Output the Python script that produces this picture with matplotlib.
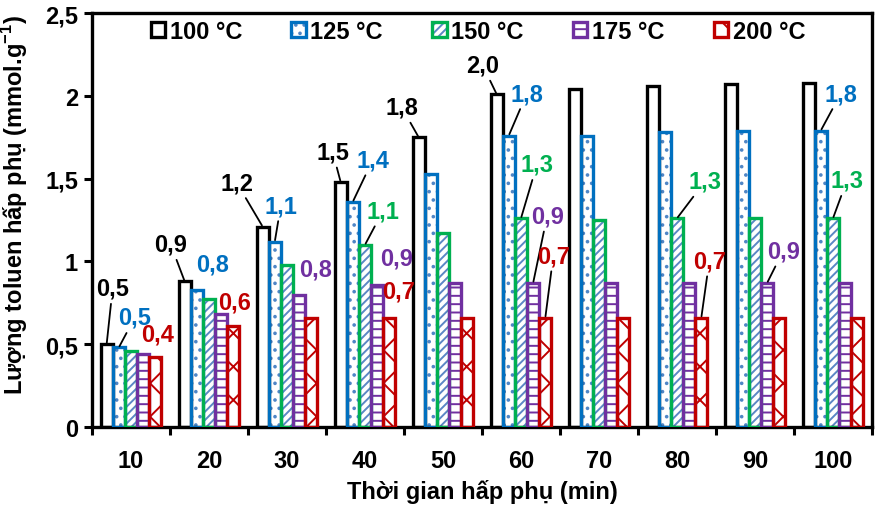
import matplotlib
matplotlib.use('Agg')
import matplotlib.pyplot as plt
from matplotlib.ticker import FuncFormatter, FixedLocator
from matplotlib.legend_handler import HandlerTuple
import numpy as np

# Data
times = ['10', '20', '30', '40', '50', '60', '70', '80', '90', '100']
series_names = ['100 °C', '125 °C', '150 °C', '175 °C', '200 °C']
t100 = [0.50, 0.88, 1.21, 1.48, 1.75, 2.01, 2.04, 2.06, 2.07, 2.08]
t125 = [0.48, 0.83, 1.12, 1.36, 1.53, 1.76, 1.76, 1.78, 1.79, 1.79]
t150 = [0.46, 0.77, 0.98, 1.10, 1.17, 1.26, 1.25, 1.26, 1.26, 1.26]
t175 = [0.44, 0.68, 0.80, 0.86, 0.87, 0.87, 0.87, 0.87, 0.87, 0.87]
t200 = [0.42, 0.61, 0.66, 0.66, 0.66, 0.66, 0.66, 0.66, 0.66, 0.66]
all_series = [t100, t125, t150, t175, t200]

# styles
edge_colors = ['#000000', '#0070C0', '#00B050', '#7030A0', '#C00000']
hatch_colors = ['#000000', '#4F86C6', '#5B87C5', '#7030A0', '#C00000']
hatches = ['', '..', '////', '--', 'x']

# labelled bars: (group, series, dx px, dy px, leader line)
labels = [
    (0, 0, 6, 56, True), (0, 1, 16, 30, True), (0, 4, 2, 23, False),
    (1, 0, -14, 37, True), (1, 1, 16, 26, False), (1, 4, 1, 24, False),
    (2, 0, -26, 44, True), (2, 1, 6, 36, True), (2, 3, 16, 26, False),
    (3, 0, -8, 30, True), (3, 1, 20, 42, True), (3, 2, 18, 34, True),
    (3, 3, 19, 27, False), (3, 4, 9, 27, False),
    (4, 0, -17, 30, True),
    (5, 0, -14, 29, True), (5, 1, 18, 42, True), (5, 2, 16, 54, True),
    (5, 3, 14, 67, True), (5, 4, 8, 62, True),
    (7, 2, 28, 37, True), (7, 4, 8, 57, True),
    (8, 3, 16, 32, True),
    (9, 1, 20, 37, True), (9, 2, 14, 38, True),
]

plt.rcParams['font.family'] = ['Liberation Sans', 'DejaVu Sans']
plt.rcParams['font.weight'] = 'bold'
plt.rcParams['mathtext.fontset'] = 'custom'
plt.rcParams['mathtext.rm'] = 'Liberation Sans:bold'
plt.rcParams['mathtext.bf'] = 'Liberation Sans:bold'
plt.rcParams['hatch.linewidth'] = 1.4

fig, ax = plt.subplots(figsize=(8.76, 5.06), dpi=100)
fig.subplots_adjust(left=0.105, right=0.9954, top=0.9723, bottom=0.1542)

x = np.arange(len(times))
w = 0.156
handles = []
for s, vals in enumerate(all_series):
    pos = x + (s - 2) * w
    hb = ax.bar(pos, vals, w, color='white', edgecolor=hatch_colors[s],
                hatch=hatches[s], linewidth=0, zorder=2)
    eb = ax.bar(pos, vals, w, fill=False, edgecolor=edge_colors[s],
                linewidth=2.4, zorder=3)
    handles.append((hb, eb))

px = 0.72  # points per pixel at 100 dpi
for g, s, dx, dy, line in labels:
    v = all_series[s][g]
    txt = f'{v:.1f}'.replace('.', ',')
    arrow = dict(arrowstyle='-', color='black', lw=1.3, shrinkA=1, shrinkB=1) if line else None
    ax.annotate(txt, xy=(x[g] + (s - 2) * w, v), xytext=(dx * px, dy * px),
                textcoords='offset points', ha='center', va='center',
                fontsize=17, fontweight='bold', color=edge_colors[s],
                arrowprops=arrow, zorder=5)

ax.set_xlim(-0.5, len(times) - 0.5)
ax.set_ylim(0, 2.5)
ax.set_yticks([0, 0.5, 1, 1.5, 2, 2.5])
ax.yaxis.set_major_formatter(FuncFormatter(lambda v, p: f'{v:g}'.replace('.', ',')))
ax.set_xticks(x)
ax.set_xticklabels(times)
ax.xaxis.set_minor_locator(FixedLocator(np.arange(-0.5, len(times), 1)))
ax.tick_params(axis='x', which='major', length=0, pad=16, labelsize=17)
ax.tick_params(axis='x', which='minor', length=6, width=2.2, direction='out')
ax.tick_params(axis='y', length=6, width=2.2, direction='out', pad=4, labelsize=17)

for sp in ax.spines.values():
    sp.set_linewidth(2.4)

ax.set_xlabel('Thời gian hấp phụ (min)', fontsize=17, fontweight='bold')
ax.xaxis.set_label_coords(0.5, -0.125)
ax.set_ylabel(r'Lượng toluen hấp phụ (mmol.g$^{-1}$)', fontsize=17, fontweight='bold')
ax.yaxis.set_label_coords(-0.08, 0.539)

ax.legend(handles, series_names, handler_map={tuple: HandlerTuple(ndivide=1)},
          loc='center', bbox_to_anchor=(0.495, 0.955), ncol=5, frameon=False,
          fontsize=17, handlelength=0.6, handleheight=0.6, handletextpad=0.2,
          columnspacing=2.1)

plt.savefig('out.png', dpi=100)
